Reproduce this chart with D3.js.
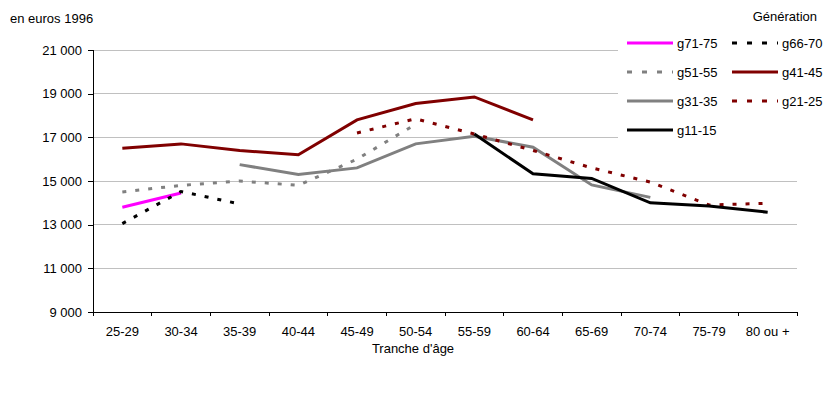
<!DOCTYPE html>
<html>
<head>
<meta charset="utf-8">
<script src="https://cdn.jsdelivr.net/npm/d3@7"></script>
<style>
  body { margin: 0; background: #fff; }
  svg { font-family: "Liberation Sans", Arial, sans-serif; }
</style>
</head>
<body>
<div id="chart"></div>
<script>
"use strict";

// tranches d'âge (axe x)
const ages = ["25-29", "30-34", "35-39", "40-44", "45-49", "50-54", "55-59", "60-64", "65-69", "70-74", "75-79", "80 ou +"];
const yTicks = [9000, 11000, 13000, 15000, 17000, 19000, 21000];

// revenu moyen par génération, en euros 1996 (null = pas observé)
const g71_75 = [13800, 14450, null, null, null, null, null, null, null, null, null, null];
const g66_70 = [13050, 14520, 13950, null, null, null, null, null, null, null, null, null];
const g51_55 = [14500, 14800, 15000, 14800, 16000, 17600, null, null, null, null, null, null];
const g41_45 = [16500, 16700, 16400, 16200, 17800, 18550, 18850, 17800, null, null, null, null];
const g31_35 = [null, null, 15750, 15300, 15600, 16700, 17050, 16550, 14820, 14250, null, null];
const g21_25 = [null, null, null, null, 17200, 17850, 17150, 16400, 15600, 14950, 13900, 13980];
const g11_15 = [null, null, null, null, null, null, 17150, 15330, 15120, 14000, 13850, 13570];

const series = [
  { name: "g71-75", values: g71_75, color: "#ff00ff", dash: null },
  { name: "g66-70", values: g66_70, color: "#000000", dash: "4,9" },
  { name: "g51-55", values: g51_55, color: "#808080", dash: "4,9" },
  { name: "g41-45", values: g41_45, color: "#800000", dash: null },
  { name: "g31-35", values: g31_35, color: "#808080", dash: null },
  { name: "g21-25", values: g21_25, color: "#800000", dash: "4,9" },
  { name: "g11-15", values: g11_15, color: "#000000", dash: null }
];

var width = 835,
    height = 394;

var plotLeft = 93, plotRight = 797, plotTop = 50, plotBottom = 312;

var fr = d3.formatLocale({ decimal: ",", thousands: "\u00a0", grouping: [3], currency: ["", " €"] });
var fmt = fr.format(",d");

var x = d3.scaleBand()
    .domain(ages)
    .range([plotLeft, plotRight])
    .padding(0);

var y = d3.scaleLinear()
    .domain([9000, 21000])
    .range([plotBottom, plotTop]);

var svg = d3.select("#chart").append("svg")
    .attr("width", width)
    .attr("height", height);

// grille horizontale
svg.append("g").selectAll("line")
    .data(yTicks.filter(function(d) { return d > 9000; }))
  .enter().append("line")
    .attr("x1", plotLeft).attr("x2", plotRight)
    .attr("y1", function(d) { return y(d); })
    .attr("y2", function(d) { return y(d); })
    .style("stroke", "#c0c0c0")
    .style("stroke-width", 1)
    .attr("shape-rendering", "crispEdges");

// axe y
var yAxis = svg.append("g")
    .attr("transform", "translate(" + plotLeft + ",0)")
    .call(d3.axisLeft(y).tickValues(yTicks).tickFormat(fmt).tickSize(5).tickPadding(6));
yAxis.select(".domain").attr("stroke", "#000").attr("shape-rendering", "crispEdges");
yAxis.selectAll(".tick line").attr("stroke", "#000").attr("shape-rendering", "crispEdges");
yAxis.selectAll("text").style("font-size", "13px").style("fill", "#000");

// axe x
var xAxis = svg.append("g")
    .attr("transform", "translate(0," + plotBottom + ")")
    .call(d3.axisBottom(x).tickSize(0).tickPadding(15));
xAxis.select(".domain").attr("stroke", "#000").attr("shape-rendering", "crispEdges");
xAxis.selectAll("text").style("font-size", "13px").style("fill", "#000");

// petits traits aux limites des tranches
xAxis.selectAll(".sep")
    .data(ages.map(function(a) { return x(a); }).concat([plotRight]))
  .enter().append("line")
    .attr("class", "sep")
    .attr("x1", function(d) { return d; })
    .attr("x2", function(d) { return d; })
    .attr("y1", 0).attr("y2", 4)
    .attr("stroke", "#000")
    .attr("shape-rendering", "crispEdges");

svg.append("text")
    .attr("x", 413)
    .attr("y", 353)
    .attr("text-anchor", "middle")
    .style("font-size", "13px")
    .text("Tranche d'âge");

svg.append("text")
    .attr("x", 10)
    .attr("y", 23)
    .style("font-size", "13px")
    .text("en euros 1996");

// courbes
var line = d3.line()
    .defined(function(d) { return d != null; })
    .x(function(d, i) { return x(ages[i]) + x.bandwidth() / 2; })
    .y(function(d) { return y(d); });

svg.append("g").selectAll("path")
    .data(series)
  .enter().append("path")
    .attr("d", function(d) { return line(d.values); })
    .style("fill", "none")
    .style("stroke", function(d) { return d.color; })
    .style("stroke-width", 3)
    .style("stroke-dasharray", function(d) { return d.dash; });

// légende
var leg = svg.append("g");
leg.append("rect")
    .attr("x", 618).attr("y", 28)
    .attr("width", 217).attr("height", 116)
    .style("fill", "#fff");

leg.append("text")
    .attr("x", 817).attr("y", 21)
    .attr("text-anchor", "end")
    .style("font-size", "13px")
    .text("Génération");

var items = leg.selectAll(".item")
    .data(series)
  .enter().append("g")
    .attr("class", "item")
    .attr("transform", function(d, i) {
      return "translate(" + (i % 2 === 0 ? 627 : 732) + "," + (43 + Math.floor(i / 2) * 29) + ")";
    });

items.append("line")
    .attr("x1", 0).attr("x2", 46)
    .style("stroke", function(d) { return d.color; })
    .style("stroke-width", 3)
    .style("stroke-dasharray", function(d) { return d.dash ? "5,10" : null; });

items.append("text")
    .attr("x", 50).attr("y", 5)
    .style("font-size", "13px")
    .text(function(d) { return d.name; });
</script>
</body>
</html>
